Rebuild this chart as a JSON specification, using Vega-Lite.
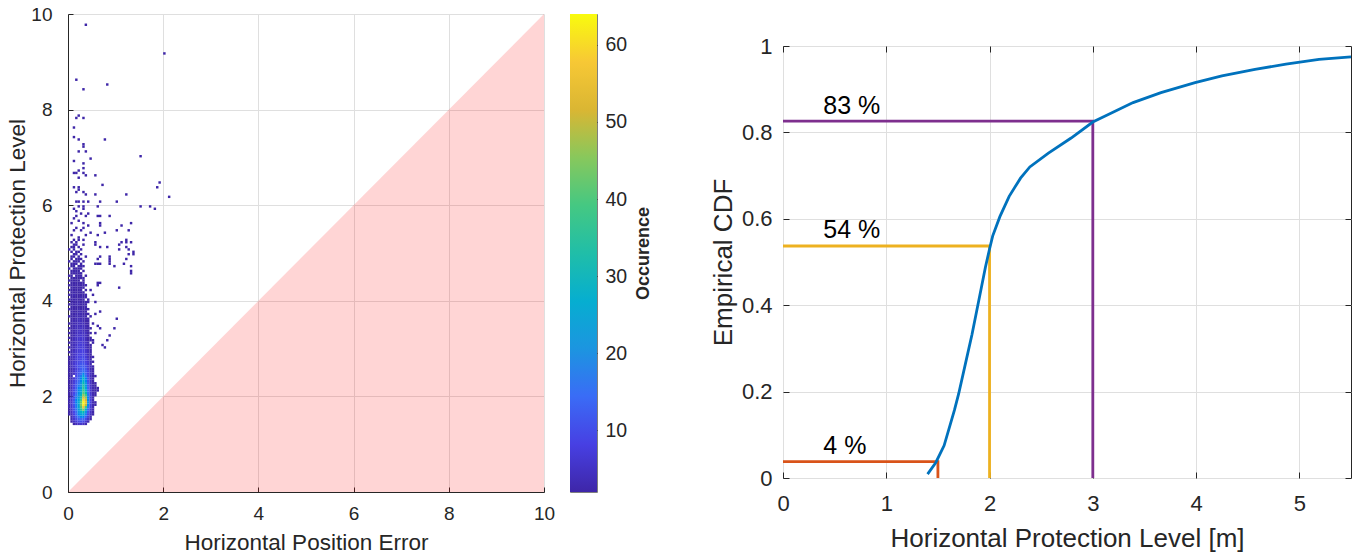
{
"$schema":"https://vega.github.io/schema/vega-lite/v6.json",
"padding":{"left":6,"top":5,"right":0,"bottom":0},
"config":{"font":"Liberation Sans","view":{"stroke":null},
"axis":{"labelFont":"Liberation Sans","titleFont":"Liberation Sans","labelColor":"#262626","titleColor":"#262626","titleFontWeight":"normal","domainColor":"#262626","tickColor":"#262626","gridColor":"#dfdfdf","gridOpacity":1,"labelFlush":false,"labelOverlap":false}},
"datasets":{
"tri":[{"x":0,"y":0},{"x":10,"y":10}],
"cb":[{"lo":2,"hi":64}],
"cdf":[{"x":1.4,"y":0.009},{"x":1.48,"y":0.036},{"x":1.56,"y":0.075},{"x":1.66,"y":0.157},{"x":1.7,"y":0.194},{"x":1.765,"y":0.263},{"x":1.83,"y":0.332},{"x":1.875,"y":0.386},{"x":1.92,"y":0.44},{"x":1.96,"y":0.488},{"x":2.0,"y":0.53},{"x":2.03,"y":0.56},{"x":2.1,"y":0.605},{"x":2.19,"y":0.652},{"x":2.3,"y":0.694},{"x":2.39,"y":0.72},{"x":2.57,"y":0.752},{"x":2.79,"y":0.787},{"x":3.0,"y":0.824},{"x":3.155,"y":0.842},{"x":3.39,"y":0.869},{"x":3.66,"y":0.892},{"x":3.99,"y":0.915},{"x":4.25,"y":0.931},{"x":4.57,"y":0.946},{"x":4.87,"y":0.958},{"x":5.19,"y":0.969},{"x":5.5,"y":0.975}],
"thr":[{"s":"a","x":0,"y":0.038,"o":0},{"s":"a","x":1.5,"y":0.038,"o":1},{"s":"a","x":1.5,"y":0,"o":2},{"s":"b","x":0,"y":0.537,"o":0},{"s":"b","x":2,"y":0.537,"o":1},{"s":"b","x":2,"y":0,"o":2},{"s":"c","x":0,"y":0.826,"o":0},{"s":"c","x":3,"y":0.826,"o":1},{"s":"c","x":3,"y":0,"o":2}],
"lab":[{"x":0.39,"y":0.074,"t":"4 %"},{"x":0.39,"y":0.573,"t":"54 %"},{"x":0.39,"y":0.862,"t":"83 %"}],
"hist":[
{"x":0.125,"y":1.425,"c":2},{"x":0.175,"y":1.425,"c":4},{"x":0.225,"y":1.425,"c":5},{"x":0.275,"y":1.425,"c":6},{"x":0.325,"y":1.425,"c":5},{"x":0.375,"y":1.425,"c":3},
{"x":0.075,"y":1.475,"c":2},{"x":0.125,"y":1.475,"c":5},{"x":0.175,"y":1.475,"c":7},{"x":0.225,"y":1.475,"c":9},{"x":0.275,"y":1.475,"c":10},{"x":0.325,"y":1.475,"c":9},{"x":0.375,"y":1.475,"c":6},{"x":0.425,"y":1.475,"c":3},
{"x":0.075,"y":1.525,"c":3},{"x":0.125,"y":1.525,"c":6},{"x":0.175,"y":1.525,"c":9},{"x":0.225,"y":1.525,"c":12},{"x":0.275,"y":1.525,"c":14},{"x":0.325,"y":1.525,"c":13},{"x":0.375,"y":1.525,"c":9},{"x":0.425,"y":1.525,"c":5},{"x":0.475,"y":1.525,"c":2},
{"x":0.075,"y":1.575,"c":3},{"x":0.125,"y":1.575,"c":7},{"x":0.175,"y":1.575,"c":11},{"x":0.225,"y":1.575,"c":15},{"x":0.275,"y":1.575,"c":18},{"x":0.325,"y":1.575,"c":17},{"x":0.375,"y":1.575,"c":12},{"x":0.425,"y":1.575,"c":7},{"x":0.475,"y":1.575,"c":3},
{"x":0.025,"y":1.625,"c":2},{"x":0.075,"y":1.625,"c":4},{"x":0.125,"y":1.625,"c":8},{"x":0.175,"y":1.625,"c":13},{"x":0.225,"y":1.625,"c":18},{"x":0.275,"y":1.625,"c":24},{"x":0.325,"y":1.625,"c":26},{"x":0.375,"y":1.625,"c":16},{"x":0.425,"y":1.625,"c":9},{"x":0.475,"y":1.625,"c":4},{"x":0.525,"y":1.625,"c":2},
{"x":0.025,"y":1.675,"c":2},{"x":0.075,"y":1.675,"c":5},{"x":0.125,"y":1.675,"c":9},{"x":0.175,"y":1.675,"c":14},{"x":0.225,"y":1.675,"c":20},{"x":0.275,"y":1.675,"c":28},{"x":0.325,"y":1.675,"c":32},{"x":0.375,"y":1.675,"c":20},{"x":0.425,"y":1.675,"c":11},{"x":0.475,"y":1.675,"c":5},{"x":0.525,"y":1.675,"c":2},
{"x":0.025,"y":1.725,"c":2},{"x":0.075,"y":1.725,"c":5},{"x":0.125,"y":1.725,"c":10},{"x":0.175,"y":1.725,"c":15},{"x":0.225,"y":1.725,"c":22},{"x":0.275,"y":1.725,"c":34},{"x":0.325,"y":1.725,"c":44},{"x":0.375,"y":1.725,"c":26},{"x":0.425,"y":1.725,"c":13},{"x":0.475,"y":1.725,"c":6},{"x":0.525,"y":1.725,"c":3},
{"x":0.025,"y":1.775,"c":3},{"x":0.075,"y":1.775,"c":6},{"x":0.125,"y":1.775,"c":10},{"x":0.175,"y":1.775,"c":16},{"x":0.225,"y":1.775,"c":24},{"x":0.275,"y":1.775,"c":40},{"x":0.325,"y":1.775,"c":56},{"x":0.375,"y":1.775,"c":38},{"x":0.425,"y":1.775,"c":16},{"x":0.475,"y":1.775,"c":7},{"x":0.525,"y":1.775,"c":3},
{"x":0.025,"y":1.825,"c":3},{"x":0.075,"y":1.825,"c":6},{"x":0.125,"y":1.825,"c":11},{"x":0.175,"y":1.825,"c":16},{"x":0.225,"y":1.825,"c":25},{"x":0.275,"y":1.825,"c":44},{"x":0.325,"y":1.825,"c":62},{"x":0.375,"y":1.825,"c":50},{"x":0.425,"y":1.825,"c":18},{"x":0.475,"y":1.825,"c":7},{"x":0.525,"y":1.825,"c":3},{"x":0.575,"y":1.825,"c":2},
{"x":0.025,"y":1.875,"c":3},{"x":0.075,"y":1.875,"c":6},{"x":0.125,"y":1.875,"c":11},{"x":0.175,"y":1.875,"c":17},{"x":0.225,"y":1.875,"c":26},{"x":0.275,"y":1.875,"c":42},{"x":0.325,"y":1.875,"c":64},{"x":0.375,"y":1.875,"c":55},{"x":0.425,"y":1.875,"c":20},{"x":0.475,"y":1.875,"c":8},{"x":0.525,"y":1.875,"c":3},{"x":0.575,"y":1.875,"c":2},
{"x":0.025,"y":1.925,"c":3},{"x":0.075,"y":1.925,"c":6},{"x":0.125,"y":1.925,"c":11},{"x":0.175,"y":1.925,"c":17},{"x":0.225,"y":1.925,"c":24},{"x":0.275,"y":1.925,"c":38},{"x":0.325,"y":1.925,"c":60},{"x":0.375,"y":1.925,"c":52},{"x":0.425,"y":1.925,"c":19},{"x":0.475,"y":1.925,"c":8},{"x":0.525,"y":1.925,"c":3},
{"x":0.025,"y":1.975,"c":2},{"x":0.075,"y":1.975,"c":6},{"x":0.125,"y":1.975,"c":10},{"x":0.175,"y":1.975,"c":16},{"x":0.225,"y":1.975,"c":22},{"x":0.275,"y":1.975,"c":34},{"x":0.325,"y":1.975,"c":54},{"x":0.375,"y":1.975,"c":46},{"x":0.425,"y":1.975,"c":17},{"x":0.475,"y":1.975,"c":7},{"x":0.525,"y":1.975,"c":3},
{"x":0.025,"y":2.025,"c":2},{"x":0.075,"y":2.025,"c":5},{"x":0.125,"y":2.025,"c":10},{"x":0.175,"y":2.025,"c":15},{"x":0.225,"y":2.025,"c":20},{"x":0.275,"y":2.025,"c":30},{"x":0.325,"y":2.025,"c":46},{"x":0.375,"y":2.025,"c":38},{"x":0.425,"y":2.025,"c":16},{"x":0.475,"y":2.025,"c":7},{"x":0.525,"y":2.025,"c":3},{"x":0.575,"y":2.025,"c":2},
{"x":0.025,"y":2.075,"c":2},{"x":0.075,"y":2.075,"c":5},{"x":0.125,"y":2.075,"c":9},{"x":0.175,"y":2.075,"c":14},{"x":0.225,"y":2.075,"c":19},{"x":0.275,"y":2.075,"c":26},{"x":0.325,"y":2.075,"c":40},{"x":0.375,"y":2.075,"c":32},{"x":0.425,"y":2.075,"c":15},{"x":0.475,"y":2.075,"c":6},{"x":0.525,"y":2.075,"c":3},{"x":0.575,"y":2.075,"c":2},
{"x":0.025,"y":2.125,"c":2},{"x":0.075,"y":2.125,"c":5},{"x":0.125,"y":2.125,"c":9},{"x":0.175,"y":2.125,"c":13},{"x":0.225,"y":2.125,"c":18},{"x":0.275,"y":2.125,"c":24},{"x":0.325,"y":2.125,"c":38},{"x":0.375,"y":2.125,"c":28},{"x":0.425,"y":2.125,"c":14},{"x":0.475,"y":2.125,"c":6},{"x":0.525,"y":2.125,"c":3},{"x":0.575,"y":2.125,"c":2},{"x":0.625,"y":2.125,"c":1},
{"x":0.025,"y":2.175,"c":2},{"x":0.075,"y":2.175,"c":4},{"x":0.125,"y":2.175,"c":8},{"x":0.175,"y":2.175,"c":12},{"x":0.225,"y":2.175,"c":17},{"x":0.275,"y":2.175,"c":22},{"x":0.325,"y":2.175,"c":36},{"x":0.375,"y":2.175,"c":24},{"x":0.425,"y":2.175,"c":13},{"x":0.475,"y":2.175,"c":6},{"x":0.525,"y":2.175,"c":3},{"x":0.575,"y":2.175,"c":2},{"x":0.625,"y":2.175,"c":1},
{"x":0.025,"y":2.225,"c":2},{"x":0.075,"y":2.225,"c":4},{"x":0.125,"y":2.225,"c":8},{"x":0.175,"y":2.225,"c":12},{"x":0.225,"y":2.225,"c":16},{"x":0.275,"y":2.225,"c":21},{"x":0.325,"y":2.225,"c":34},{"x":0.375,"y":2.225,"c":22},{"x":0.425,"y":2.225,"c":12},{"x":0.475,"y":2.225,"c":5},{"x":0.525,"y":2.225,"c":3},{"x":0.575,"y":2.225,"c":2},
{"x":0.025,"y":2.275,"c":2},{"x":0.075,"y":2.275,"c":4},{"x":0.125,"y":2.275,"c":7},{"x":0.175,"y":2.275,"c":11},{"x":0.225,"y":2.275,"c":15},{"x":0.275,"y":2.275,"c":20},{"x":0.325,"y":2.275,"c":32},{"x":0.375,"y":2.275,"c":20},{"x":0.425,"y":2.275,"c":11},{"x":0.475,"y":2.275,"c":5},{"x":0.525,"y":2.275,"c":2},{"x":0.575,"y":2.275,"c":1},
{"x":0.025,"y":2.325,"c":1},{"x":0.075,"y":2.325,"c":4},{"x":0.125,"y":2.325,"c":7},{"x":0.175,"y":2.325,"c":10},{"x":0.225,"y":2.325,"c":14},{"x":0.275,"y":2.325,"c":18},{"x":0.325,"y":2.325,"c":28},{"x":0.375,"y":2.325,"c":18},{"x":0.425,"y":2.325,"c":10},{"x":0.475,"y":2.325,"c":5},{"x":0.525,"y":2.325,"c":2},
{"x":0.025,"y":2.375,"c":1},{"x":0.075,"y":2.375,"c":3},{"x":0.125,"y":2.375,"c":6},{"x":0.175,"y":2.375,"c":10},{"x":0.225,"y":2.375,"c":13},{"x":0.275,"y":2.375,"c":17},{"x":0.325,"y":2.375,"c":30},{"x":0.375,"y":2.375,"c":17},{"x":0.425,"y":2.375,"c":10},{"x":0.475,"y":2.375,"c":4},{"x":0.525,"y":2.375,"c":2},
{"x":0.025,"y":2.425,"c":1},{"x":0.075,"y":2.425,"c":3},{"x":0.175,"y":2.425,"c":9},{"x":0.225,"y":2.425,"c":12},{"x":0.275,"y":2.425,"c":16},{"x":0.325,"y":2.425,"c":24},{"x":0.375,"y":2.425,"c":15},{"x":0.425,"y":2.425,"c":9},{"x":0.475,"y":2.425,"c":4},{"x":0.525,"y":2.425,"c":2},{"x":0.575,"y":2.425,"c":1},
{"x":0.025,"y":2.475,"c":1},{"x":0.075,"y":2.475,"c":3},{"x":0.125,"y":2.475,"c":5},{"x":0.175,"y":2.475,"c":8},{"x":0.225,"y":2.475,"c":11},{"x":0.275,"y":2.475,"c":14},{"x":0.325,"y":2.475,"c":18},{"x":0.375,"y":2.475,"c":13},{"x":0.425,"y":2.475,"c":8},{"x":0.475,"y":2.475,"c":4},{"x":0.525,"y":2.475,"c":2},
{"x":0.025,"y":2.525,"c":1},{"x":0.075,"y":2.525,"c":3},{"x":0.125,"y":2.525,"c":5},{"x":0.175,"y":2.525,"c":8},{"x":0.225,"y":2.525,"c":10},{"x":0.275,"y":2.525,"c":13},{"x":0.325,"y":2.525,"c":15},{"x":0.375,"y":2.525,"c":12},{"x":0.425,"y":2.525,"c":8},{"x":0.475,"y":2.525,"c":4},{"x":0.525,"y":2.525,"c":2},
{"x":0.025,"y":2.575,"c":1},{"x":0.075,"y":2.575,"c":3},{"x":0.125,"y":2.575,"c":5},{"x":0.175,"y":2.575,"c":7},{"x":0.225,"y":2.575,"c":9},{"x":0.275,"y":2.575,"c":12},{"x":0.325,"y":2.575,"c":13},{"x":0.375,"y":2.575,"c":11},{"x":0.425,"y":2.575,"c":7},{"x":0.475,"y":2.575,"c":3},{"x":0.525,"y":2.575,"c":2},
{"x":0.025,"y":2.625,"c":2},{"x":0.075,"y":2.625,"c":4},{"x":0.125,"y":2.625,"c":6},{"x":0.175,"y":2.625,"c":8},{"x":0.225,"y":2.625,"c":10},{"x":0.275,"y":2.625,"c":12},{"x":0.325,"y":2.625,"c":12},{"x":0.375,"y":2.625,"c":10},{"x":0.425,"y":2.625,"c":7},{"x":0.475,"y":2.625,"c":4},{"x":0.525,"y":2.625,"c":1},
{"x":0.025,"y":2.675,"c":1},{"x":0.075,"y":2.675,"c":4},{"x":0.125,"y":2.675,"c":6},{"x":0.175,"y":2.675,"c":8},{"x":0.225,"y":2.675,"c":9},{"x":0.275,"y":2.675,"c":11},{"x":0.325,"y":2.675,"c":11},{"x":0.375,"y":2.675,"c":9},{"x":0.425,"y":2.675,"c":6},{"x":0.475,"y":2.675,"c":3},
{"x":0.025,"y":2.725,"c":2},{"x":0.075,"y":2.725,"c":4},{"x":0.125,"y":2.725,"c":6},{"x":0.175,"y":2.725,"c":7},{"x":0.225,"y":2.725,"c":9},{"x":0.275,"y":2.725,"c":10},{"x":0.325,"y":2.725,"c":10},{"x":0.375,"y":2.725,"c":8},{"x":0.425,"y":2.725,"c":6},{"x":0.475,"y":2.725,"c":3},{"x":0.525,"y":2.725,"c":1},
{"x":0.025,"y":2.775,"c":1},{"x":0.075,"y":2.775,"c":3},{"x":0.125,"y":2.775,"c":5},{"x":0.175,"y":2.775,"c":7},{"x":0.225,"y":2.775,"c":8},{"x":0.275,"y":2.775,"c":9},{"x":0.325,"y":2.775,"c":10},{"x":0.375,"y":2.775,"c":8},{"x":0.425,"y":2.775,"c":5},{"x":0.475,"y":2.775,"c":3},
{"x":0.025,"y":2.825,"c":2},{"x":0.075,"y":2.825,"c":4},{"x":0.125,"y":2.825,"c":5},{"x":0.175,"y":2.825,"c":7},{"x":0.225,"y":2.825,"c":8},{"x":0.275,"y":2.825,"c":9},{"x":0.325,"y":2.825,"c":9},{"x":0.375,"y":2.825,"c":7},{"x":0.425,"y":2.825,"c":5},{"x":0.475,"y":2.825,"c":2},{"x":0.525,"y":2.825,"c":1},
{"x":0.075,"y":2.875,"c":3},{"x":0.125,"y":2.875,"c":5},{"x":0.175,"y":2.875,"c":6},{"x":0.225,"y":2.875,"c":8},{"x":0.275,"y":2.875,"c":8},{"x":0.325,"y":2.875,"c":9},{"x":0.375,"y":2.875,"c":7},{"x":0.425,"y":2.875,"c":4},{"x":0.475,"y":2.875,"c":2},
{"x":0.025,"y":2.925,"c":1},{"x":0.075,"y":2.925,"c":3},{"x":0.125,"y":2.925,"c":5},{"x":0.175,"y":2.925,"c":6},{"x":0.225,"y":2.925,"c":7},{"x":0.275,"y":2.925,"c":8},{"x":0.325,"y":2.925,"c":8},{"x":0.375,"y":2.925,"c":6},{"x":0.425,"y":2.925,"c":4},{"x":0.475,"y":2.925,"c":2},
{"x":0.075,"y":2.975,"c":3},{"x":0.125,"y":2.975,"c":4},{"x":0.175,"y":2.975,"c":6},{"x":0.225,"y":2.975,"c":7},{"x":0.275,"y":2.975,"c":8},{"x":0.325,"y":2.975,"c":8},{"x":0.375,"y":2.975,"c":6},{"x":0.425,"y":2.975,"c":4},{"x":0.475,"y":2.975,"c":2},
{"x":0.025,"y":3.025,"c":1},{"x":0.075,"y":3.025,"c":3},{"x":0.125,"y":3.025,"c":4},{"x":0.175,"y":3.025,"c":6},{"x":0.225,"y":3.025,"c":7},{"x":0.275,"y":3.025,"c":7},{"x":0.325,"y":3.025,"c":7},{"x":0.375,"y":3.025,"c":5},{"x":0.425,"y":3.025,"c":3},{"x":0.475,"y":3.025,"c":1},
{"x":0.075,"y":3.075,"c":3},{"x":0.125,"y":3.075,"c":4},{"x":0.175,"y":3.075,"c":5},{"x":0.225,"y":3.075,"c":7},{"x":0.275,"y":3.075,"c":7},{"x":0.325,"y":3.075,"c":7},{"x":0.375,"y":3.075,"c":5},{"x":0.425,"y":3.075,"c":3},{"x":0.475,"y":3.075,"c":1},
{"x":0.025,"y":3.125,"c":1},{"x":0.075,"y":3.125,"c":3},{"x":0.125,"y":3.125,"c":4},{"x":0.175,"y":3.125,"c":5},{"x":0.225,"y":3.125,"c":6},{"x":0.275,"y":3.125,"c":7},{"x":0.325,"y":3.125,"c":6},{"x":0.375,"y":3.125,"c":5},{"x":0.425,"y":3.125,"c":3},{"x":0.525,"y":3.125,"c":1},
{"x":0.075,"y":3.175,"c":2},{"x":0.125,"y":3.175,"c":4},{"x":0.175,"y":3.175,"c":5},{"x":0.225,"y":3.175,"c":6},{"x":0.275,"y":3.175,"c":6},{"x":0.325,"y":3.175,"c":6},{"x":0.375,"y":3.175,"c":4},{"x":0.425,"y":3.175,"c":2},{"x":0.475,"y":3.175,"c":1},
{"x":0.025,"y":3.225,"c":1},{"x":0.075,"y":3.225,"c":2},{"x":0.125,"y":3.225,"c":4},{"x":0.175,"y":3.225,"c":5},{"x":0.225,"y":3.225,"c":6},{"x":0.275,"y":3.225,"c":6},{"x":0.325,"y":3.225,"c":6},{"x":0.375,"y":3.225,"c":4},{"x":0.425,"y":3.225,"c":2},{"x":0.475,"y":3.225,"c":1},
{"x":0.075,"y":3.275,"c":2},{"x":0.125,"y":3.275,"c":3},{"x":0.175,"y":3.275,"c":5},{"x":0.225,"y":3.275,"c":5},{"x":0.275,"y":3.275,"c":6},{"x":0.325,"y":3.275,"c":5},{"x":0.375,"y":3.275,"c":4},{"x":0.425,"y":3.275,"c":2},
{"x":0.025,"y":3.325,"c":1},{"x":0.075,"y":3.325,"c":2},{"x":0.125,"y":3.325,"c":3},{"x":0.175,"y":3.325,"c":4},{"x":0.225,"y":3.325,"c":5},{"x":0.275,"y":3.325,"c":5},{"x":0.325,"y":3.325,"c":5},{"x":0.375,"y":3.325,"c":4},{"x":0.425,"y":3.325,"c":2},{"x":0.475,"y":3.325,"c":1},
{"x":0.075,"y":3.375,"c":2},{"x":0.125,"y":3.375,"c":3},{"x":0.175,"y":3.375,"c":4},{"x":0.225,"y":3.375,"c":5},{"x":0.275,"y":3.375,"c":5},{"x":0.325,"y":3.375,"c":4},{"x":0.375,"y":3.375,"c":3},{"x":0.425,"y":3.375,"c":1},
{"x":0.025,"y":3.425,"c":1},{"x":0.075,"y":3.425,"c":2},{"x":0.125,"y":3.425,"c":3},{"x":0.175,"y":3.425,"c":4},{"x":0.225,"y":3.425,"c":4},{"x":0.275,"y":3.425,"c":5},{"x":0.325,"y":3.425,"c":4},{"x":0.375,"y":3.425,"c":3},{"x":0.425,"y":3.425,"c":1},{"x":0.475,"y":3.425,"c":1},
{"x":0.075,"y":3.475,"c":2},{"x":0.125,"y":3.475,"c":3},{"x":0.175,"y":3.475,"c":4},{"x":0.225,"y":3.475,"c":4},{"x":0.275,"y":3.475,"c":4},{"x":0.325,"y":3.475,"c":4},{"x":0.375,"y":3.475,"c":3},{"x":0.425,"y":3.475,"c":1},
{"x":0.025,"y":3.525,"c":1},{"x":0.075,"y":3.525,"c":2},{"x":0.125,"y":3.525,"c":3},{"x":0.175,"y":3.525,"c":3},{"x":0.225,"y":3.525,"c":4},{"x":0.275,"y":3.525,"c":4},{"x":0.325,"y":3.525,"c":4},{"x":0.375,"y":3.525,"c":2},{"x":0.425,"y":3.525,"c":1},
{"x":0.075,"y":3.575,"c":2},{"x":0.125,"y":3.575,"c":3},{"x":0.175,"y":3.575,"c":3},{"x":0.225,"y":3.575,"c":4},{"x":0.275,"y":3.575,"c":4},{"x":0.325,"y":3.575,"c":3},{"x":0.375,"y":3.575,"c":2},{"x":0.425,"y":3.575,"c":1},
{"x":0.075,"y":3.625,"c":1},{"x":0.125,"y":3.625,"c":2},{"x":0.175,"y":3.625,"c":3},{"x":0.225,"y":3.625,"c":4},{"x":0.275,"y":3.625,"c":3},{"x":0.325,"y":3.625,"c":3},{"x":0.375,"y":3.625,"c":2},{"x":0.425,"y":3.625,"c":1},
{"x":0.025,"y":3.675,"c":1},{"x":0.075,"y":3.675,"c":2},{"x":0.125,"y":3.675,"c":2},{"x":0.175,"y":3.675,"c":3},{"x":0.225,"y":3.675,"c":3},{"x":0.275,"y":3.675,"c":3},{"x":0.325,"y":3.675,"c":3},{"x":0.375,"y":3.675,"c":2},{"x":0.475,"y":3.675,"c":1},
{"x":0.075,"y":3.725,"c":1},{"x":0.125,"y":3.725,"c":2},{"x":0.175,"y":3.725,"c":3},{"x":0.225,"y":3.725,"c":3},{"x":0.275,"y":3.725,"c":3},{"x":0.325,"y":3.725,"c":2},{"x":0.375,"y":3.725,"c":2},{"x":0.425,"y":3.725,"c":1},
{"x":0.075,"y":3.775,"c":1},{"x":0.125,"y":3.775,"c":2},{"x":0.175,"y":3.775,"c":2},{"x":0.225,"y":3.775,"c":3},{"x":0.275,"y":3.775,"c":3},{"x":0.325,"y":3.775,"c":2},{"x":0.375,"y":3.775,"c":1},
{"x":0.025,"y":3.825,"c":1},{"x":0.075,"y":3.825,"c":1},{"x":0.125,"y":3.825,"c":2},{"x":0.175,"y":3.825,"c":2},{"x":0.225,"y":3.825,"c":3},{"x":0.275,"y":3.825,"c":2},{"x":0.325,"y":3.825,"c":2},{"x":0.375,"y":3.825,"c":1},{"x":0.425,"y":3.825,"c":1},
{"x":0.075,"y":3.875,"c":1},{"x":0.125,"y":3.875,"c":2},{"x":0.175,"y":3.875,"c":2},{"x":0.225,"y":3.875,"c":2},{"x":0.275,"y":3.875,"c":2},{"x":0.325,"y":3.875,"c":2},{"x":0.375,"y":3.875,"c":1},
{"x":0.025,"y":3.925,"c":1},{"x":0.075,"y":3.925,"c":2},{"x":0.125,"y":3.925,"c":2},{"x":0.175,"y":3.925,"c":3},{"x":0.225,"y":3.925,"c":3},{"x":0.275,"y":3.925,"c":2},{"x":0.325,"y":3.925,"c":2},{"x":0.375,"y":3.925,"c":1},
{"x":0.075,"y":3.975,"c":2},{"x":0.125,"y":3.975,"c":2},{"x":0.175,"y":3.975,"c":2},{"x":0.225,"y":3.975,"c":3},{"x":0.275,"y":3.975,"c":2},{"x":0.325,"y":3.975,"c":2},{"x":0.375,"y":3.975,"c":1},{"x":0.425,"y":3.975,"c":1},
{"x":0.025,"y":4.025,"c":1},{"x":0.075,"y":4.025,"c":1},{"x":0.125,"y":4.025,"c":2},{"x":0.175,"y":4.025,"c":3},{"x":0.225,"y":4.025,"c":2},{"x":0.275,"y":4.025,"c":2},{"x":0.325,"y":4.025,"c":1},{"x":0.425,"y":4.025,"c":1},
{"x":0.075,"y":4.075,"c":2},{"x":0.125,"y":4.075,"c":2},{"x":0.175,"y":4.075,"c":2},{"x":0.225,"y":4.075,"c":2},{"x":0.275,"y":4.075,"c":3},{"x":0.325,"y":4.075,"c":1},{"x":0.375,"y":4.075,"c":1},
{"x":0.025,"y":4.125,"c":1},{"x":0.075,"y":4.125,"c":1},{"x":0.125,"y":4.125,"c":3},{"x":0.175,"y":4.125,"c":2},{"x":0.225,"y":4.125,"c":2},{"x":0.275,"y":4.125,"c":2},{"x":0.325,"y":4.125,"c":2},{"x":0.375,"y":4.125,"c":1},
{"x":0.075,"y":4.175,"c":2},{"x":0.125,"y":4.175,"c":2},{"x":0.175,"y":4.175,"c":2},{"x":0.225,"y":4.175,"c":2},{"x":0.275,"y":4.175,"c":1},{"x":0.325,"y":4.175,"c":1},
{"x":0.025,"y":4.225,"c":1},{"x":0.075,"y":4.225,"c":1},{"x":0.125,"y":4.225,"c":2},{"x":0.175,"y":4.225,"c":1},{"x":0.225,"y":4.225,"c":2},{"x":0.275,"y":4.225,"c":2},{"x":0.375,"y":4.225,"c":1},
{"x":0.075,"y":4.275,"c":2},{"x":0.125,"y":4.275,"c":2},{"x":0.175,"y":4.275,"c":2},{"x":0.225,"y":4.275,"c":1},{"x":0.275,"y":4.275,"c":2},{"x":0.325,"y":4.275,"c":1},
{"x":0.025,"y":4.325,"c":1},{"x":0.075,"y":4.325,"c":1},{"x":0.125,"y":4.325,"c":2},{"x":0.175,"y":4.325,"c":2},{"x":0.225,"y":4.325,"c":2},{"x":0.275,"y":4.325,"c":1},{"x":0.325,"y":4.325,"c":1},{"x":0.375,"y":4.325,"c":1},
{"x":0.075,"y":4.375,"c":1},{"x":0.125,"y":4.375,"c":2},{"x":0.175,"y":4.375,"c":1},{"x":0.225,"y":4.375,"c":2},{"x":0.275,"y":4.375,"c":1},{"x":0.325,"y":4.375,"c":1},
{"x":0.025,"y":4.425,"c":1},{"x":0.075,"y":4.425,"c":2},{"x":0.125,"y":4.425,"c":1},{"x":0.175,"y":4.425,"c":2},{"x":0.225,"y":4.425,"c":1},{"x":0.325,"y":4.425,"c":1},
{"x":0.075,"y":4.475,"c":1},{"x":0.125,"y":4.475,"c":2},{"x":0.175,"y":4.475,"c":2},{"x":0.225,"y":4.475,"c":1},{"x":0.275,"y":4.475,"c":1},{"x":0.325,"y":4.475,"c":1},
{"x":0.025,"y":4.525,"c":1},{"x":0.075,"y":4.525,"c":1},{"x":0.175,"y":4.525,"c":1},{"x":0.225,"y":4.525,"c":2},{"x":0.275,"y":4.525,"c":1},{"x":0.375,"y":4.525,"c":1},
{"x":0.075,"y":4.575,"c":1},{"x":0.125,"y":4.575,"c":2},{"x":0.175,"y":4.575,"c":1},{"x":0.225,"y":4.575,"c":1},{"x":0.275,"y":4.575,"c":1},
{"x":0.075,"y":4.625,"c":1},{"x":0.125,"y":4.625,"c":1},{"x":0.175,"y":4.625,"c":2},{"x":0.225,"y":4.625,"c":1},{"x":0.325,"y":4.625,"c":1},
{"x":0.025,"y":4.675,"c":1},{"x":0.125,"y":4.675,"c":1},{"x":0.175,"y":4.675,"c":1},{"x":0.225,"y":4.675,"c":1},{"x":0.275,"y":4.675,"c":1},
{"x":0.075,"y":4.725,"c":1},{"x":0.125,"y":4.725,"c":1},{"x":0.225,"y":4.725,"c":1},{"x":0.275,"y":4.725,"c":1},{"x":0.325,"y":4.725,"c":1},
{"x":0.075,"y":4.775,"c":1},{"x":0.125,"y":4.775,"c":1},{"x":0.175,"y":4.775,"c":1},{"x":0.275,"y":4.775,"c":1},
{"x":0.025,"y":4.825,"c":1},{"x":0.125,"y":4.825,"c":1},{"x":0.175,"y":4.825,"c":1},{"x":0.225,"y":4.825,"c":1},{"x":0.325,"y":4.825,"c":1},
{"x":0.075,"y":4.875,"c":1},{"x":0.175,"y":4.875,"c":1},{"x":0.225,"y":4.875,"c":1},{"x":0.275,"y":4.875,"c":1},
{"x":0.075,"y":4.925,"c":1},{"x":0.125,"y":4.925,"c":1},{"x":0.225,"y":4.925,"c":1},{"x":0.375,"y":4.925,"c":1},
{"x":0.125,"y":4.975,"c":1},{"x":0.175,"y":4.975,"c":1},{"x":0.275,"y":4.975,"c":1},
{"x":0.075,"y":5.025,"c":1},{"x":0.175,"y":5.025,"c":1},{"x":0.225,"y":5.025,"c":1},
{"x":0.025,"y":5.075,"c":1},{"x":0.125,"y":5.075,"c":1},{"x":0.275,"y":5.075,"c":1},
{"x":0.075,"y":5.125,"c":1},{"x":0.125,"y":5.125,"c":1},{"x":0.225,"y":5.125,"c":1},
{"x":0.125,"y":5.175,"c":1},{"x":0.175,"y":5.175,"c":1},{"x":0.325,"y":5.175,"c":1},
{"x":0.075,"y":5.225,"c":1},{"x":0.175,"y":5.225,"c":1},
{"x":0.125,"y":5.275,"c":1},{"x":0.225,"y":5.275,"c":1},{"x":0.325,"y":5.275,"c":1},
{"x":0.225,"y":5.325,"c":1},{"x":0.375,"y":5.375,"c":1},{"x":0.075,"y":5.375,"c":1},{"x":0.125,"y":5.475,"c":1},{"x":0.275,"y":5.475,"c":1},{"x":0.475,"y":5.425,"c":1},{"x":0.175,"y":5.525,"c":1},{"x":0.325,"y":5.525,"c":1},{"x":0.425,"y":5.575,"c":1},{"x":0.075,"y":5.625,"c":1},{"x":0.325,"y":5.625,"c":1},{"x":0.225,"y":5.675,"c":1},{"x":0.125,"y":5.725,"c":1},{"x":0.175,"y":5.775,"c":1},{"x":0.375,"y":5.775,"c":1},{"x":0.275,"y":5.825,"c":1},{"x":0.425,"y":5.825,"c":1},{"x":0.175,"y":5.875,"c":1},{"x":0.125,"y":5.925,"c":1},
{"x":0.225,"y":5.975,"c":1},{"x":0.325,"y":5.975,"c":1},{"x":0.325,"y":5.925,"c":1},{"x":0.625,"y":5.975,"c":1},{"x":1.525,"y":5.975,"c":1},{"x":1.725,"y":5.975,"c":1},{"x":1.825,"y":5.925,"c":1},
{"x":0.175,"y":6.075,"c":1},{"x":0.225,"y":6.075,"c":1},{"x":0.325,"y":6.075,"c":1},{"x":0.425,"y":6.075,"c":1},{"x":0.675,"y":6.075,"c":1},{"x":1.025,"y":6.075,"c":1},
{"x":0.375,"y":9.775,"c":1},{"x":2.025,"y":9.175,"c":1},{"x":0.175,"y":8.625,"c":1},{"x":0.825,"y":8.525,"c":1},{"x":0.325,"y":8.425,"c":1},{"x":0.225,"y":7.875,"c":1},{"x":0.175,"y":7.825,"c":1},{"x":0.325,"y":7.825,"c":1},{"x":0.125,"y":7.625,"c":1},{"x":0.125,"y":7.425,"c":1},{"x":0.225,"y":7.375,"c":1},{"x":0.775,"y":7.375,"c":1},{"x":0.325,"y":7.275,"c":1},{"x":0.325,"y":7.225,"c":1},{"x":0.225,"y":7.125,"c":1},{"x":0.375,"y":7.125,"c":1},{"x":0.475,"y":6.975,"c":1},{"x":1.525,"y":7.025,"c":1},{"x":0.125,"y":6.925,"c":1},{"x":0.325,"y":6.875,"c":1},{"x":0.325,"y":6.775,"c":1},{"x":0.125,"y":6.675,"c":1},{"x":0.175,"y":6.675,"c":1},{"x":0.325,"y":6.675,"c":1},{"x":0.225,"y":6.725,"c":1},{"x":0.375,"y":6.625,"c":1},{"x":0.575,"y":6.625,"c":1},{"x":0.225,"y":6.575,"c":1},{"x":0.725,"y":6.425,"c":1},{"x":1.925,"y":6.475,"c":1},{"x":1.875,"y":6.375,"c":1},{"x":0.125,"y":6.375,"c":1},{"x":0.225,"y":6.375,"c":1},{"x":0.225,"y":6.325,"c":1},{"x":0.175,"y":6.275,"c":1},{"x":0.325,"y":6.275,"c":1},{"x":0.375,"y":6.225,"c":1},{"x":0.575,"y":6.225,"c":1},{"x":1.225,"y":6.225,"c":1},{"x":2.125,"y":6.175,"c":1},
{"x":0.625,"y":5.775,"c":1},{"x":0.675,"y":5.775,"c":1},{"x":0.875,"y":5.775,"c":1},{"x":0.675,"y":5.625,"c":1},{"x":0.675,"y":5.575,"c":1},{"x":1.325,"y":5.625,"c":1},{"x":1.125,"y":5.575,"c":1},{"x":1.025,"y":5.475,"c":1},{"x":1.275,"y":5.475,"c":1},{"x":0.775,"y":5.425,"c":1},{"x":0.625,"y":5.375,"c":1},{"x":1.225,"y":5.275,"c":1},{"x":1.225,"y":5.225,"c":1},{"x":1.125,"y":5.225,"c":1},{"x":1.325,"y":5.225,"c":1},{"x":1.075,"y":5.175,"c":1},{"x":0.575,"y":5.225,"c":1},{"x":0.575,"y":5.175,"c":1},{"x":0.675,"y":5.125,"c":1},{"x":0.825,"y":5.125,"c":1},{"x":1.075,"y":5.075,"c":1},{"x":1.225,"y":5.125,"c":1},{"x":1.275,"y":5.075,"c":1},{"x":1.375,"y":5.025,"c":1},{"x":1.375,"y":4.975,"c":1},{"x":1.275,"y":4.975,"c":1},{"x":1.225,"y":4.875,"c":1},{"x":0.625,"y":4.875,"c":1},{"x":0.675,"y":4.925,"c":1},{"x":0.875,"y":4.925,"c":1},{"x":0.875,"y":4.875,"c":1},{"x":0.875,"y":4.825,"c":1},{"x":0.875,"y":4.775,"c":1},{"x":0.575,"y":4.775,"c":1},{"x":0.625,"y":4.775,"c":1},{"x":0.675,"y":4.775,"c":1},{"x":0.975,"y":4.725,"c":1},{"x":1.175,"y":4.775,"c":1},{"x":1.325,"y":4.725,"c":1},{"x":1.325,"y":4.625,"c":1},{"x":1.325,"y":4.575,"c":1},{"x":0.625,"y":4.375,"c":1},{"x":0.675,"y":4.375,"c":1},{"x":0.625,"y":4.325,"c":1},{"x":1.075,"y":4.275,"c":1},{"x":0.525,"y":4.125,"c":1},{"x":0.575,"y":3.975,"c":1},{"x":0.475,"y":4.225,"c":1},
{"x":1.025,"y":3.625,"c":1},{"x":0.975,"y":3.425,"c":1},{"x":0.875,"y":3.275,"c":1},{"x":0.825,"y":3.175,"c":1},{"x":0.725,"y":3.075,"c":1},{"x":0.775,"y":3.025,"c":1},{"x":0.575,"y":3.725,"c":1},{"x":0.675,"y":3.775,"c":1},{"x":0.675,"y":3.425,"c":1},{"x":0.525,"y":3.525,"c":1},{"x":0.575,"y":3.325,"c":1},{"x":0.625,"y":3.475,"c":1},{"x":0.525,"y":3.175,"c":1}
]},
"spacing":55,
"hconcat":[
{"spacing":14,"hconcat":[
{"width":476,"height":478,"view":{"stroke":null},
"layer":[
{"data":{"name":"tri"},"mark":{"type":"area","color":"#ff0000","opacity":0.165},
"encoding":{"x":{"field":"x","type":"quantitative","scale":{"domain":[0,10],"nice":false},"axis":{"values":[0,2,4,6,8,10],"title":"Horizontal Position Error","grid":true,"labelFontSize":19,"titleFontSize":22.5,"tickSize":-5,"labelPadding":17,"titlePadding":8}},
"y":{"field":"y","type":"quantitative","scale":{"domain":[0,10],"nice":false},"axis":{"values":[0,2,4,6,8,10],"title":"Horizontal Protection Level","grid":true,"labelFontSize":19,"titleFontSize":22.5,"tickSize":-5,"labelPadding":21,"titlePadding":1}}}},
{"data":{"name":"hist"},"mark":{"type":"square","size":6,"opacity":1,"filled":true,"strokeWidth":0},
"encoding":{"x":{"field":"x","type":"quantitative"},"y":{"field":"y","type":"quantitative"},
"color":{"field":"c","type":"quantitative","scale":{"domain":[2,64],"clamp":true,"range":["#3e26a8","#4740e3","#3a6cf6","#1c95e0","#06aed0","#20bea8","#45c882","#88c85c","#dab633","#f7c835","#f9fb0e"]},"legend":null}}}
]},
{"width":27,"height":478,"view":{"stroke":"#7f7f7f"},"data":{"name":"cb"},
"mark":{"type":"rect","color":{"gradient":"linear","x1":0,"y1":1,"x2":0,"y2":0,"stops":[{"offset":0,"color":"#3e26a8"},{"offset":0.1,"color":"#4740e3"},{"offset":0.2,"color":"#3a6cf6"},{"offset":0.3,"color":"#1c95e0"},{"offset":0.4,"color":"#06aed0"},{"offset":0.5,"color":"#20bea8"},{"offset":0.6,"color":"#45c882"},{"offset":0.7,"color":"#88c85c"},{"offset":0.8,"color":"#dab633"},{"offset":0.9,"color":"#f7c835"},{"offset":1,"color":"#f9fb0e"}]}},
"encoding":{"x":{"datum":0,"type":"quantitative","scale":{"domain":[0,1],"nice":false},"axis":null},"x2":{"datum":1},
"y":{"field":"lo","type":"quantitative","scale":{"domain":[2,64],"nice":false,"zero":false},"axis":{"orient":"right","values":[10,20,30,40,50,60],"title":"Occurence","titleAngle":-90,"titleBaseline":"top","titleFontWeight":"bold","titleFontSize":18,"labelFontSize":19.5,"grid":false,"domain":false,"tickSize":-4,"labelPadding":12,"titlePadding":8}},
"y2":{"field":"hi"}}}
]},
{"spacing":0,"vconcat":[
{"width":568,"height":20,"view":{"stroke":null},"data":{"values":[{"t":""}]},"mark":{"type":"text"},"encoding":{"text":{"field":"t"}}},
{"width":568,"height":432,"view":{"stroke":"#262626","strokeWidth":1},
"resolve":{"axis":{"x":"independent","y":"independent"}},
"layer":[
{"data":{"name":"thr"},"mark":{"type":"line","strokeWidth":2.8,"interpolate":"linear"},
"encoding":{"x":{"field":"x","type":"quantitative","scale":{"domain":[0,5.5],"nice":false},"axis":{"values":[0,1,2,3,4,5],"format":"~g","title":"Horizontal Protection Level [m]","grid":true,"domain":false,"labelFontSize":22,"titleFontSize":26,"tickSize":-6,"labelPadding":21,"titlePadding":11}},
"y":{"field":"y","type":"quantitative","scale":{"domain":[0,1],"nice":false},"axis":{"values":[0,0.2,0.4,0.6,0.8,1],"format":"~g","title":"Empirical CDF","grid":true,"domain":false,"labelFontSize":22,"titleFontSize":26,"tickSize":-6,"labelPadding":17,"titlePadding":5}},
"color":{"field":"s","type":"nominal","scale":{"domain":["a","b","c"],"range":["#d95319","#edb120","#7e2f8e"]},"legend":null},
"order":{"field":"o","type":"quantitative"}}},
{"data":{"name":"cdf"},"mark":{"type":"line","color":"#0072bd","strokeWidth":2.8},
"encoding":{"x":{"field":"x","type":"quantitative","axis":null},"y":{"field":"y","type":"quantitative","axis":null}}},
{"data":{"name":"lab"},"mark":{"type":"text","align":"left","baseline":"middle","fontSize":25,"font":"Liberation Sans","color":"#000000"},
"encoding":{"x":{"field":"x","type":"quantitative","axis":{"orient":"top","values":[0,1,2,3,4,5],"labels":false,"title":null,"grid":false,"domain":false,"tickSize":-6}},"y":{"field":"y","type":"quantitative","axis":{"orient":"right","values":[0,0.2,0.4,0.6,0.8,1],"labels":false,"title":null,"grid":false,"domain":false,"tickSize":-6}},"text":{"field":"t"}}}
]}
]}
]
}
